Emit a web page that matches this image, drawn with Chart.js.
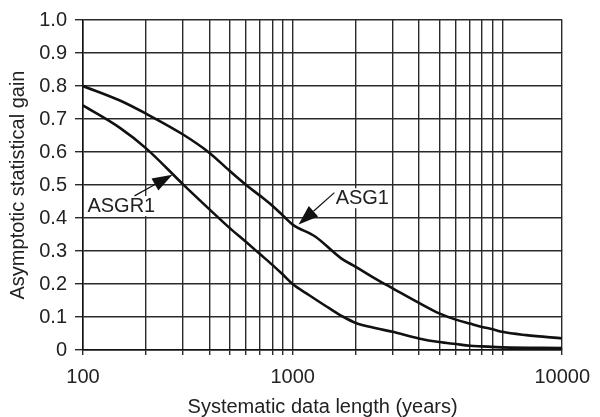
<!DOCTYPE html>
<html>
<head>
<meta charset="utf-8">
<script src="https://cdn.jsdelivr.net/npm/chart.js@4.4.1/dist/chart.umd.min.js"></script>
<style>
  body { margin: 0; background: #fff; }
</style>
</head>
<body>
<canvas id="myChart" width="600" height="417"></canvas>
<script>
const asg1Years = [100, 150, 200, 300, 400, 500, 600, 700, 800, 900, 1000, 1280, 1710, 2000, 2500, 3000, 4000, 5000, 6000, 7000, 8000, 9000, 10000, 13000, 19300]
const asg1Gain = [0.80, 0.756, 0.716, 0.653, 0.598, 0.543, 0.50, 0.467, 0.437, 0.407, 0.38, 0.344, 0.277, 0.252, 0.215, 0.187, 0.143, 0.111, 0.092, 0.080, 0.070, 0.063, 0.055, 0.045, 0.035]

const asgr1Years = [100, 150, 200, 300, 400, 500, 600, 700, 800, 900, 1000, 1200, 1500, 1750, 2000, 2500, 3000, 4000, 5000, 6000, 7000, 8000, 10000, 19300]
const asgr1Gain = [0.741, 0.673, 0.611, 0.502, 0.427, 0.37, 0.327, 0.290, 0.258, 0.228, 0.20, 0.166, 0.126, 0.100, 0.082, 0.066, 0.055, 0.035, 0.024, 0.018, 0.013, 0.011, 0.008, 0.006]

// grid lines stop at 10000, the frame itself runs on to xMax
const xGrid = [100, 200, 300, 400, 500, 600, 700, 800, 900, 1000, 2000, 3000, 4000, 5000, 6000, 7000, 8000, 9000, 10000]
const xMax = 19300
const xLabelValues = [100, 1000, xMax]
const xLabelTexts = ['100', '1000', '10000']

const yTicks = [0, 0.1, 0.2, 0.3, 0.4, 0.5, 0.6, 0.7, 0.8, 0.9, 1.0]
const yTickLabels = ['0', '0.1', '0.2', '0.3', '0.4', '0.5', '0.6', '0.7', '0.8', '0.9', '1.0']

// callouts, in data units
const notes = [
  { text: 'ASGR1', at: [105, 0.436], from: [176, 0.467], to: [267, 0.531] },
  { text: 'ASG1', at: [1603, 0.46], from: [1581, 0.477], to: [1067, 0.38] }
]

const FONT = '"Liberation Sans", Arial, sans-serif'

const arrows = {
  id: 'arrows',
  afterDatasetsDraw(chart) {
    const { ctx, scales: { x, y } } = chart
    ctx.save()
    ctx.font = '20px ' + FONT
    notes.forEach(n => {
      const tx = x.getPixelForValue(n.at[0]), ty = y.getPixelForValue(n.at[1])
      const w = ctx.measureText(n.text).width
      ctx.fillStyle = '#fff'
      ctx.fillRect(tx - 2, ty - 10, w + 4, 20)
      ctx.fillStyle = '#222'
      ctx.textAlign = 'left'
      ctx.textBaseline = 'middle'
      ctx.fillText(n.text, tx, ty)

      const x0 = x.getPixelForValue(n.from[0]), y0 = y.getPixelForValue(n.from[1])
      const x1 = x.getPixelForValue(n.to[0]), y1 = y.getPixelForValue(n.to[1])
      const a = Math.atan2(y1 - y0, x1 - x0)
      const hl = 20, hw = 7
      const bx = x1 - hl * Math.cos(a), by = y1 - hl * Math.sin(a)
      ctx.strokeStyle = '#111'
      ctx.lineWidth = 1.2
      ctx.beginPath()
      ctx.moveTo(x0, y0)
      ctx.lineTo(bx, by)
      ctx.stroke()
      ctx.fillStyle = '#111'
      ctx.beginPath()
      ctx.moveTo(x1, y1)
      ctx.lineTo(bx + hw * Math.sin(a), by - hw * Math.cos(a))
      ctx.lineTo(bx - hw * Math.sin(a), by + hw * Math.cos(a))
      ctx.closePath()
      ctx.fill()
    })
    ctx.restore()
  }
}

const line = {
  borderColor: '#111',
  borderWidth: 2.6,
  pointRadius: 0,
  fill: false,
  cubicInterpolationMode: 'monotone'
}

new Chart(document.getElementById('myChart').getContext('2d'), {
  type: 'line',
  data: {
    datasets: [
      Object.assign({ label: 'ASG1', data: asg1Years.map((v, i) => ({ x: v, y: asg1Gain[i] })) }, line),
      Object.assign({ label: 'ASGR1', data: asgr1Years.map((v, i) => ({ x: v, y: asgr1Gain[i] })) }, line)
    ]
  },
  options: {
    responsive: false,
    animation: false,
    layout: { padding: { top: 18, right: 35, left: 0, bottom: 0 } },
    plugins: { legend: { display: false }, tooltip: { enabled: false } },
    scales: {
      x: {
        type: 'logarithmic',
        min: 100,
        max: xMax,
        afterBuildTicks: s => { s.ticks = xGrid.concat([xMax]).map(v => ({ value: v })) },
        afterFit: s => { s.height = 67 },
        ticks: {
          autoSkip: false,
          maxRotation: 0,
          padding: 10,
          color: '#222',
          font: { family: FONT, size: 20 },
          callback: v => {
            const i = xLabelValues.indexOf(v)
            return i < 0 ? '' : xLabelTexts[i]
          }
        },
        grid: { color: '#2a2a2a', lineWidth: 1.4, tickLength: 5 },
        border: { color: '#111', width: 1.5 },
        title: {
          display: true,
          text: 'Systematic data length (years)',
          color: '#222',
          font: { family: FONT, size: 20, lineHeight: 1 },
          padding: 0
        }
      },
      y: {
        min: 0,
        max: 1,
        afterBuildTicks: s => { s.ticks = yTicks.map(v => ({ value: v })) },
        afterFit: s => { s.width = 83 },
        ticks: {
          padding: 8,
          color: '#222',
          font: { family: FONT, size: 20 },
          callback: (v, i) => yTickLabels[i]
        },
        grid: { color: '#2a2a2a', lineWidth: 1.4, tickLength: 8 },
        border: { color: '#111', width: 1.5 },
        title: {
          display: true,
          text: 'Asymptotic statistical gain',
          color: '#222',
          font: { family: FONT, size: 20, lineHeight: 1 },
          padding: { top: 8, bottom: 0 }
        }
      }
    }
  },
  plugins: [arrows]
})
</script>
</body>
</html>
